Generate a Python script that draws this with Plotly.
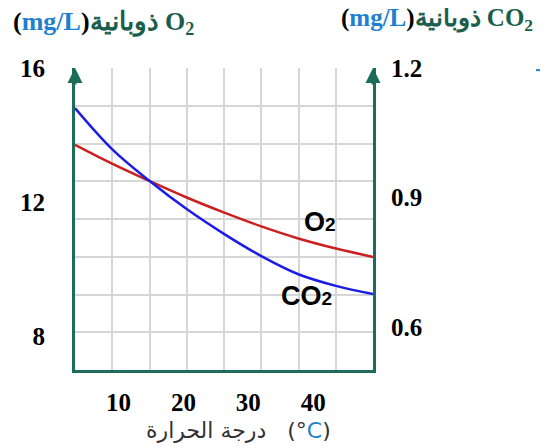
import plotly.graph_objects as go

# ---- data ----
temp_c = [3.3, 9.0, 14.8, 20.5, 26.3, 32.0, 37.7, 43.5, 49.2]
o2_mg_l = [13.71, 13.15, 12.63, 12.14, 11.69, 11.28, 10.92, 10.62, 10.37]
co2_mg_l = [1.107, 1.012, 0.938, 0.873, 0.815, 0.764, 0.722, 0.695, 0.676]

x_ticks = [10, 20, 30, 40]
o2_ticks = [8, 12, 16]
co2_ticks = [0.6, 0.9, 1.2]
co2_tick_text = ["0.6", "0.9", "1.2"]

grid_cells = 8  # decorative square grid (8 x 8)

AXIS = "#1d6b5b"
GREEN_TXT = "#1b5e4c"
BLUE_TXT = "#1f7fd0"
TICK_FONT = dict(family="Liberation Serif", size=25, color="black", weight="bold")

fig = go.Figure()

# invisible trace on the grid axes so the base subplot is drawn
fig.add_trace(go.Scatter(x=[], y=[], xaxis="x", yaxis="y", showlegend=False, hoverinfo="skip"))

fig.add_trace(go.Scatter(
    x=temp_c, y=o2_mg_l, xaxis="x2", yaxis="y2", mode="lines",
    line=dict(color="#cc1f1f", width=2.5, shape="spline", smoothing=1),
    showlegend=False, name="O2"))
fig.add_trace(go.Scatter(
    x=temp_c, y=co2_mg_l, xaxis="x2", yaxis="y3", mode="lines",
    line=dict(color="#1c1ce6", width=2.5, shape="spline", smoothing=1),
    showlegend=False, name="CO2"))

grid_axis = dict(range=[0, grid_cells], tick0=0, dtick=1, showgrid=True,
                 gridcolor="#d6d6d6", gridwidth=2, showticklabels=False,
                 zeroline=False, showline=False, ticks="", fixedrange=True)

# the page body adds an 8 px offset, so the figure is 540 x 440
fig.update_layout(
    width=540, height=440, autosize=False,
    margin=dict(l=65, r=175, t=60, b=78),
    paper_bgcolor="white", plot_bgcolor="white",
    xaxis=dict(**grid_axis),
    yaxis=dict(**grid_axis),
    xaxis2=dict(overlaying="x", anchor="y", side="bottom", range=[3.3, 49.2],
                tickvals=x_ticks, ticktext=[str(v) for v in x_ticks],
                showgrid=False, zeroline=False, showline=True, linecolor=AXIS, linewidth=3,
                ticks="outside", ticklen=8, tickcolor="rgba(0,0,0,0)", tickfont=TICK_FONT),
    yaxis2=dict(overlaying="y", anchor="x", side="left", range=[7, 16],
                tickvals=o2_ticks, ticktext=[str(v) for v in o2_ticks],
                showgrid=False, zeroline=False, showline=True, linecolor=AXIS, linewidth=3,
                ticks="outside", ticklen=22, tickcolor="rgba(0,0,0,0)", tickfont=TICK_FONT),
    yaxis3=dict(overlaying="y", anchor="x", side="right", range=[0.5, 1.2],
                tickvals=co2_ticks, ticktext=co2_tick_text,
                showgrid=False, zeroline=False, showline=True, linecolor=AXIS, linewidth=3,
                ticks="outside", ticklen=10, tickcolor="rgba(0,0,0,0)", tickfont=TICK_FONT),
)

# arrowheads on top of the two vertical axes
for xp in (0, 1):
    fig.add_annotation(x=xp, y=1.0, xref="paper", yref="paper", text="",
                       showarrow=True, ax=0, ay=18, arrowhead=2, arrowsize=1.0,
                       arrowwidth=3, arrowcolor=AXIS)

title_font = dict(family="Liberation Serif", size=26, color=GREEN_TXT)
fig.add_annotation(
    x=-0.215, y=1.149, xref="paper", yref="paper", xanchor="left", yanchor="middle",
    showarrow=False, font=title_font,
    text="<b><span style='color:black'>(</span><span style='color:%s'>mg/L</span>"
         "<span style='color:black'>)</span>ذوبانية O<sub>2</sub></b>" % BLUE_TXT)
fig.add_annotation(
    x=0.886, y=1.159, xref="paper", yref="paper", xanchor="left", yanchor="middle",
    showarrow=False, font=dict(family="Liberation Serif", size=25, color=GREEN_TXT),
    text="<b><span style='color:black'>(</span><span style='color:%s'>mg/L</span>"
         "<span style='color:black'>)</span>ذوبانية CO<sub>2</sub></b>" % BLUE_TXT)

fig.add_annotation(
    x=0.55, y=-0.199, xref="paper", yref="paper", xanchor="center", yanchor="middle",
    showarrow=False, font=dict(family="DejaVu Sans", size=22, color="#333333"),
    text="درجة الحرارة   (°<span style='color:%s'>C</span>)" % BLUE_TXT)

label_font = dict(family="Liberation Sans", size=27, color="black")
fig.add_annotation(x=0.823, y=0.49, xref="paper", yref="paper", showarrow=False,
                   xanchor="center", yanchor="middle",
                   font=label_font, text="<b>O<span style='font-size:19px'>2</span></b>")
fig.add_annotation(x=0.777, y=0.245, xref="paper", yref="paper", showarrow=False,
                   xanchor="center", yanchor="middle",
                   font=label_font, text="<b>CO<span style='font-size:19px'>2</span></b>")

# small blue mark at the top right edge
fig.add_shape(type="line", xref="paper", yref="paper", x0=1.547, x1=1.6, y0=0.993, y1=0.993,
              line=dict(color=BLUE_TXT, width=2))

fig.write_html("out.html")
